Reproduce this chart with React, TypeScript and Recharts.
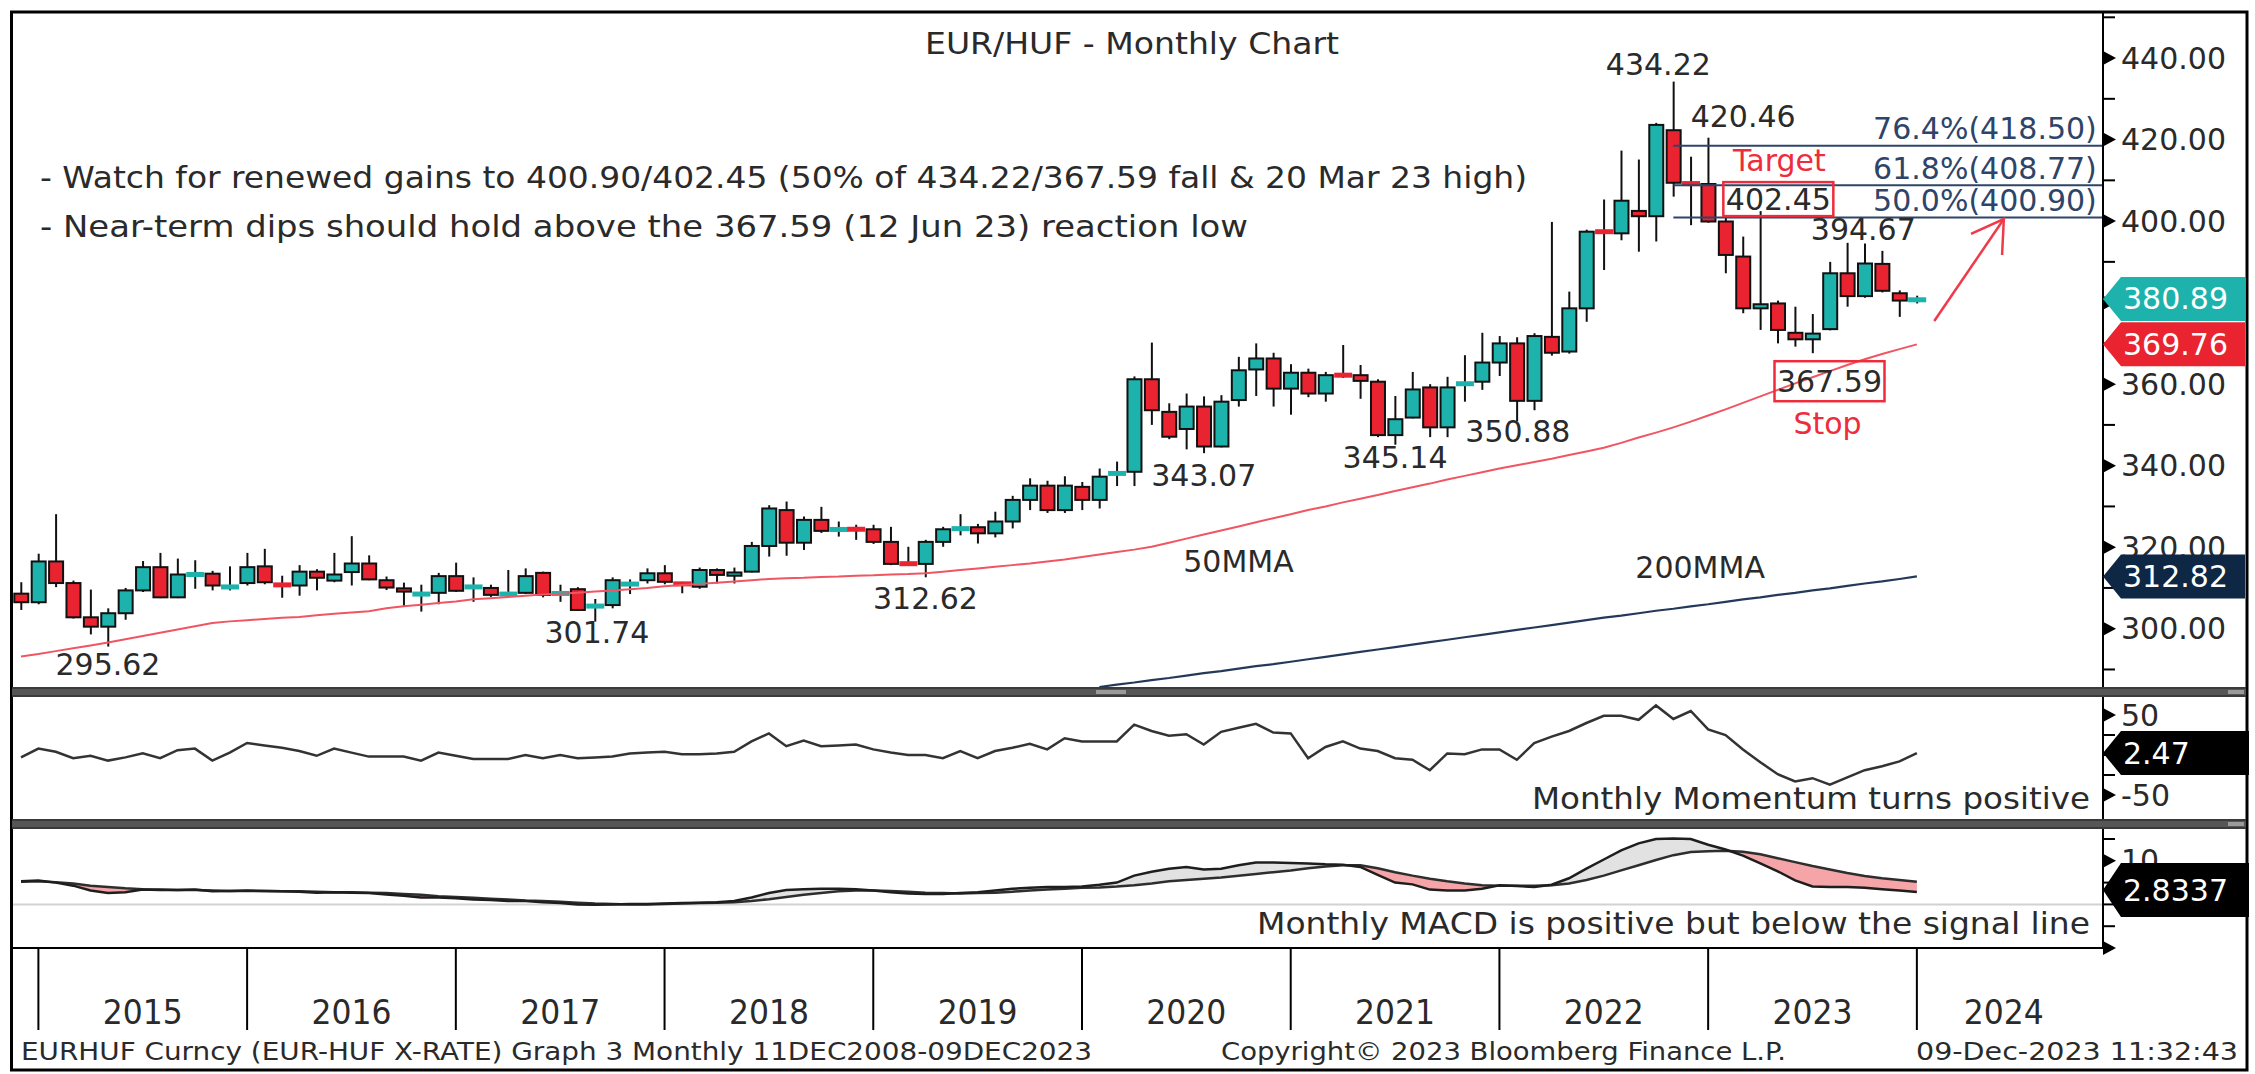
import React from 'react';
import { ComposedChart, Bar, Line, Area, XAxis, YAxis, ReferenceLine, ReferenceDot } from 'recharts';

// monthly slots Nov 2014 .. Oct 2024, candles stop at Dec 2023
const MON = ['Jan', 'Feb', 'Mar', 'Apr', 'May', 'Jun', 'Jul', 'Aug', 'Sep', 'Oct', 'Nov', 'Dec'];
const months = Array.from({ length: 120 }, (_, i) => `${MON[(10 + i) % 12]} ${14 + Math.floor((10 + i) / 12)}`);

// EUR/HUF monthly OHLC, Nov 2014 .. Dec 2023
const openP = [
  308.6, 306.5,
  316.5, 311.2, 302.8, 300.5, 303.8, 309.4, 315.1, 307.7, 313.2, 313.5, 310.1, 311.2,
  315.3, 310.9, 310.6, 314.0, 311.8, 313.9, 316.0, 311.9, 309.9, 308.4, 308.8, 312.9,
  310.1, 310.0, 308.4, 308.8, 313.7, 308.5, 309.7, 305.4, 305.8, 310.8, 311.9, 313.6,
  311.2, 310.3, 314.4, 313.0, 314.0, 320.3, 329.1, 321.1, 326.7, 324.2, 324.6, 324.4,
  321.3, 316.1, 315.9, 321.3, 324.4, 324.9, 323.4, 326.3, 331.6, 335.1, 329.1, 334.8,
  331.6, 337.9, 338.5, 361.2, 353.2, 349.0, 354.5, 344.7, 356.1, 363.6, 366.3, 358.9,
  362.8, 357.7, 362.4, 362.2, 360.6, 347.5, 351.8, 359.2, 349.4, 359.9, 360.6, 365.3,
  370.0, 355.9, 371.6, 368.0, 378.6, 397.6, 397.0, 402.5, 401.2, 422.3, 409.4, 409.1,
  399.9, 391.3, 378.6, 379.8, 372.6, 371.0, 373.5, 387.2, 381.6, 389.5, 382.3, 380.5,
];
const highP = [
  311.4, 318.4,
  328.1, 311.8, 309.6, 305.0, 310.0, 316.6, 318.6, 317.2, 316.8, 314.2, 315.3, 318.6,
  319.6, 313.0, 315.6, 314.6, 318.6, 322.7, 318.0, 312.8, 311.3, 310.8, 313.7, 316.2,
  312.6, 310.8, 314.4, 314.8, 314.0, 310.8, 310.2, 307.3, 312.6, 312.1, 314.8, 315.6,
  311.5, 315.0, 314.8, 315.0, 321.3, 330.3, 331.2, 327.5, 329.9, 326.3, 325.5, 325.5,
  325.0, 320.1, 321.8, 325.0, 328.1, 325.7, 328.7, 332.6, 336.9, 336.3, 337.4, 336.0,
  339.3, 341.0, 361.9, 370.2, 355.3, 357.7, 357.0, 357.3, 366.7, 370.0, 367.7, 364.9,
  363.8, 363.0, 369.6, 364.7, 361.2, 357.1, 363.0, 360.0, 361.8, 367.1, 372.6, 371.8,
  371.5, 372.5, 399.8, 382.7, 397.9, 405.3, 417.3, 415.1, 424.1, 434.22, 415.8, 420.46,
  401.0, 396.2, 402.45, 380.5, 379.0, 377.2, 390.0, 394.67, 394.5, 392.7, 383.0, 381.7,
];
const lowP = [
  304.6, 306.0,
  310.2, 302.5, 298.6, 295.62, 302.2, 309.0, 307.5, 307.5, 309.8, 309.4, 309.4, 310.6,
  310.9, 307.6, 308.1, 309.4, 311.4, 310.6, 311.9, 309.5, 305.6, 304.2, 306.0, 309.0,
  306.6, 307.8, 308.2, 308.5, 307.7, 306.6, 304.4, 301.74, 305.0, 308.5, 311.1, 310.9,
  308.7, 309.8, 311.1, 311.1, 313.8, 317.7, 317.9, 319.3, 323.5, 322.6, 321.8, 320.8,
  315.6, 315.5, 312.62, 320.1, 322.9, 320.9, 322.4, 324.6, 329.1, 328.4, 328.4, 329.1,
  329.5, 335.0, 335.0, 350.0, 346.5, 344.0, 343.07, 344.5, 354.5, 357.1, 354.5, 352.5,
  356.8, 355.7, 361.5, 356.4, 347.0, 345.14, 351.6, 347.0, 347.0, 355.7, 358.6, 362.0,
  350.88, 353.6, 367.0, 367.5, 375.3, 388.0, 395.3, 392.5, 395.0, 406.0, 399.0, 399.6,
  387.2, 377.4, 373.3, 370.0, 369.2, 367.59, 373.2, 379.0, 381.2, 382.5, 376.5, 379.8,
];
const closeP = [
  306.5, 316.5,
  311.2, 302.8, 300.5, 303.8, 309.4, 315.1, 307.7, 313.3, 313.4, 310.6, 310.4, 315.1,
  311.4, 310.6, 314.0, 312.5, 313.3, 316.0, 312.1, 310.1, 309.1, 308.6, 312.9, 309.3,
  310.4, 308.3, 308.6, 312.9, 308.3, 308.8, 304.6, 305.7, 311.9, 311.1, 313.6, 311.5,
  310.8, 314.4, 313.2, 313.8, 320.3, 329.5, 321.1, 326.7, 324.0, 324.5, 324.2, 321.3,
  315.9, 315.8, 321.3, 324.4, 324.7, 323.4, 326.3, 331.6, 335.1, 329.1, 335.1, 331.6,
  337.3, 338.3, 361.2, 353.6, 347.1, 354.5, 344.7, 355.7, 363.4, 366.3, 358.9, 362.8,
  357.7, 362.2, 362.0, 360.8, 347.5, 351.4, 358.7, 349.4, 359.2, 360.3, 365.3, 370.0,
  355.9, 371.8, 367.7, 378.6, 397.4, 397.2, 405.0, 401.2, 423.6, 409.4, 409.0, 399.9,
  391.7, 378.6, 379.6, 373.3, 371.0, 372.4, 387.2, 381.6, 389.6, 382.9, 380.5, 380.89,
];
const ma50 = [
  293.2, 293.8,
  294.5, 295.2, 295.9, 296.6, 297.4, 298.2, 299.0, 299.8, 300.6, 301.4, 301.8, 302.1,
  302.4, 302.7, 302.9, 303.3, 303.7, 304.0, 304.3, 305.0, 305.5, 305.9, 306.3, 306.7,
  307.2, 307.5, 307.8, 308.1, 308.4, 308.6, 308.8, 309.1, 309.4, 309.7, 310.0, 310.4,
  310.7, 311.0, 311.3, 311.6, 311.9, 312.2, 312.4, 312.5, 312.7, 312.8, 313.0, 313.1,
  313.3, 313.4, 313.6, 314.0, 314.4, 314.8, 315.2, 315.6, 316.0, 316.5, 317.0, 317.6,
  318.2, 318.8, 319.4, 320.1, 321.1, 322.1, 323.1, 324.1, 325.1, 326.1, 327.1, 328.1,
  329.1, 330.0, 331.0, 331.9, 332.8, 333.8, 334.7, 335.6, 336.6, 337.5, 338.4, 339.3,
  340.1, 340.9, 341.7, 342.6, 343.5, 344.4, 345.6, 346.9, 348.1, 349.4, 350.8, 352.3,
  353.8, 355.4, 357.0, 358.6, 360.2, 361.7, 363.2, 364.7, 366.1, 367.4, 368.6, 369.76,
];
// 200MMA only enters the visible range from Jan 2020
const ma200 = [
  ...Array(62).fill(null),
  285.7, 286.3, 286.8, 287.4, 287.9, 288.5, 289.1, 289.6, 290.2, 290.8, 291.3, 291.9,
  292.5, 293.1, 293.7, 294.3, 294.9, 295.5, 296.1, 296.7, 297.3, 297.9, 298.5, 299.1,
  299.7, 300.3, 300.9, 301.5, 302.1, 302.7, 303.2, 303.8, 304.4, 304.9, 305.5, 306.0,
  306.6, 307.2, 307.7, 308.3, 308.8, 309.4, 309.9, 310.5, 311.1, 311.6, 312.2, 312.82,
];
const momentum = [
  -3, 8,
  4, -4, -1, -7, -3, 2, -4, 6, 8, -7, 3, 15,
  12, 9, 5, -1, 8, 3, -2, -2, -2, -7, 3, -1,
  -5, -5, -5, 0, -4, 0, -4, -3, -2, 2, 3, 4,
  1, 1, 2, 4, 17, 27, 11, 18, 11, 12, 13, 7,
  3, 0, 0, -4, 5, -4, 5, 9, 14, 7, 21, 17,
  17, 17, 38, 30, 24, 26, 13, 29, 34, 39, 28, 27,
  -4, 10, 17, 8, 5, -4, -6, -19, 2, 1, 7, 7,
  -6, 15, 23, 30, 40, 49, 49, 44, 62, 45, 55, 32,
  25, 7, -9, -24, -33, -29, -37, -28, -19, -14, -8, 2.47,
];
const macd = [
  5.3, 5.5,
  5.0, 4.3, 3.2, 2.6, 2.8, 3.4, 3.3, 3.3, 3.4, 3.0, 3.1, 3.2,
  3.1, 3.0, 2.9, 2.7, 2.8, 2.7, 2.6, 2.3, 2.0, 1.6, 1.6, 1.4,
  1.1, 1.0, 0.8, 0.8, 0.5, 0.3, 0.0, -0.1, 0.0, 0.1, 0.1, 0.2,
  0.3, 0.4, 0.5, 0.8, 1.6, 2.6, 3.3, 3.5, 3.6, 3.6, 3.5, 3.2,
  2.8, 2.5, 2.4, 2.4, 2.6, 2.8, 3.2, 3.6, 3.8, 4.0, 4.0, 4.1,
  4.5, 5.0, 6.6, 7.5, 8.2, 8.6, 8.0, 8.2, 9.0, 9.6, 9.6, 9.5,
  9.4, 9.2, 9.1, 8.6, 6.8, 5.0, 4.6, 3.4, 3.2, 3.2, 3.6, 4.4,
  4.2, 4.0, 4.5, 6.0, 8.2, 10.3, 12.4, 14.0, 15.0, 15.1, 15.0, 13.7,
  12.6, 11.2, 9.4, 7.6, 5.5, 4.1, 4.0, 4.0, 3.8, 3.5, 3.2, 2.8337,
];
const signal = [
  5.2, 5.3,
  5.1, 4.8, 4.3, 4.0, 3.7, 3.5, 3.4, 3.3, 3.3, 3.2, 3.1, 3.1,
  3.1, 3.0, 3.0, 2.9, 2.8, 2.8, 2.7, 2.6, 2.4, 2.2, 1.9, 1.7,
  1.5, 1.3, 1.1, 0.9, 0.8, 0.6, 0.4, 0.2, 0.1, 0.0, 0.0, 0.1,
  0.2, 0.3, 0.4, 0.5, 0.8, 1.2, 1.7, 2.2, 2.6, 3.0, 3.2, 3.2,
  3.1, 2.9, 2.7, 2.6, 2.5, 2.6, 2.7, 2.9, 3.2, 3.4, 3.6, 3.8,
  3.9, 4.1, 4.4, 4.8, 5.3, 5.6, 5.9, 6.2, 6.6, 7.0, 7.4, 7.8,
  8.3, 8.7, 9.0, 9.0, 8.3, 7.4, 6.6, 5.9, 5.3, 4.8, 4.4, 4.3,
  4.3, 4.3, 4.4, 4.8, 5.6, 6.6, 7.8, 9.0, 10.2, 11.3, 12.0, 12.2,
  12.3, 12.1, 11.5, 10.6, 9.7, 8.8, 8.0, 7.2, 6.5, 6.0, 5.6, 5.2,
];

const fibLevels = [418.5, 408.77, 400.9];
const fibNames = ['76.4%', '61.8%', '50.0%'];
const yearLabels = ['2015', '2016', '2017', '2018', '2019', '2020', '2021', '2022', '2023', '2024'];

const rows = months.map((m, i) => ({
  m,
  o: openP[i] ?? null,
  h: highP[i] ?? null,
  l: lowP[i] ?? null,
  c: closeP[i] ?? null,
  ma50: ma50[i] ?? null,
  ma200: ma200[i] ?? null,
  mom: momentum[i] ?? null,
  macd: macd[i] ?? null,
  sig: signal[i] ?? null,
}));

// geometry
const W = 2255;
const LEFT = 12.3;
const PAD_R = 3.5;
const PLOT_R = 2103;
const BAND = (PLOT_R - PAD_R - LEFT) / months.length;
const HALF = BAND / 2;
const Y_W = W - 6 - PLOT_R;
const MARGIN = { top: 0, right: 6, bottom: 0, left: LEFT };

const MAIN = { top: 12, h: 675, dom: [285.7, 451.3] };
const MOM = { top: 697, h: 122, dom: [-80, 72.5] };
const MACD = { top: 829, h: 119, dom: [-10, 17.3] };
const toY = (p: { top: number; h: number; dom: number[] }, v: number) =>
  p.top + ((p.dom[1] - v) / (p.dom[1] - p.dom[0])) * p.h;

const TEAL = '#1db3ac';
const RED = '#ea2330';
const INK = '#2a2a2a';
const FONT = 'DejaVu Sans';

const last = (a: number[]) => a[a.length - 1];

const Candle = (p: any) => {
  const r = p.payload;
  if (!r || r.h == null) return null;
  const top = Math.min(p.y, p.y + p.height);
  const k = Math.abs(p.height) / (r.h - r.l);
  const Y = (v: number) => top + (r.h - v) * k;
  const cx = p.x + p.width / 2;
  const fill = r.c >= r.o ? TEAL : RED;
  const doji = Math.abs(r.c - r.o) < 0.7;
  return (
    <g>
      <line x1={cx} x2={cx} y1={Y(r.h)} y2={Y(r.l)} stroke="#111" strokeWidth={2} />
      {doji ? (
        <rect x={cx - 9} y={Y((r.o + r.c) / 2) - 2.5} width={18} height={5} fill={fill} />
      ) : (
        <rect x={cx - 7} y={Y(Math.max(r.o, r.c))} width={14} height={Math.abs(Y(r.o) - Y(r.c))}
          fill={fill} stroke="#111" strokeWidth={2} />
      )}
    </g>
  );
};

const makeTick = (major: (v: number) => boolean, fmt: (v: number) => string) => (p: any) => {
  const v = p.payload.value;
  if (!major(v)) return <line x1={p.x} x2={p.x + 12} y1={p.y} y2={p.y} stroke="#000" strokeWidth={2} />;
  const txt = fmt(v);
  return (
    <g>
      <path d={`M${p.x},${p.y - 7} L${p.x + 13},${p.y} L${p.x},${p.y + 7} Z`} fill="#000" />
      {txt && (
        <text x={p.x + 18} y={p.y} dominantBaseline="central" fontFamily={FONT} fontSize={30} fill={INK}>
          {txt}
        </text>
      )}
    </g>
  );
};

// the 380 label sits fully behind the last-price tag, as in the original
const priceTick = makeTick((v) => v % 20 === 0, (v) => (Math.abs(v - last(closeP)) < 3 ? '' : v.toFixed(2)));
const momTick = makeTick((v) => Math.abs(v) === 50, (v) => String(v));
const macdTick = makeTick((v) => Math.abs(v) === 10, (v) => (v > 0 ? String(v) : ''));

// value tag on the right axis, drawn in the top overlay so it covers the tick labels
const Tag = ({ y, fill, text, reach = 142, h = 22 }: { y: number; fill: string; text: string; reach?: number; h?: number }) => {
  const X = PLOT_R;
  return (
    <g>
      <path d={`M${X},${y} L${X + 18},${y - h} L${X + reach},${y - h} L${X + reach},${y + h} L${X + 18},${y + h} Z`} fill={fill} />
      <text x={X + 20} y={y} dominantBaseline="central" fontFamily={FONT} fontSize={30} fill="#fff">{text}</text>
    </g>
  );
};

const label = (text: string, dx: number, dy: number, color = INK, box?: [number, number]) => (p: any) => (
  <g>
    {box && (
      <rect x={p.cx + dx - box[0] / 2} y={p.cy + dy - box[1] / 2} width={box[0]} height={box[1]}
        fill="none" stroke="#ee2c3c" strokeWidth={2.5} />
    )}
    <text x={p.cx + dx} y={p.cy + dy} textAnchor="middle" dominantBaseline="central" fontFamily={FONT} fontSize={30} fill={color}>
      {text}
    </text>
  </g>
);

const notes = [
  { k: 95, v: 434.22, dx: -15, dy: -17, t: '434.22' },
  { k: 97, v: 420.46, dx: 35, dy: -21, t: '420.46' },
  { k: 105, v: 394.67, dx: 16, dy: -13, t: '394.67' },
  { k: 86, v: 350.88, dx: 1, dy: 10, t: '350.88' },
  { k: 79, v: 345.14, dx: 0, dy: 13, t: '345.14' },
  { k: 68, v: 343.07, dx: 0, dy: 22, t: '343.07' },
  { k: 52, v: 312.62, dx: 0, dy: 21, t: '312.62' },
  { k: 33, v: 301.74, dx: 2, dy: 11, t: '301.74' },
  { k: 5, v: 295.62, dx: 0, dy: 18, t: '295.62' },
  { k: 70, v: 316.4, dx: 0, dy: 0, t: '50MMA' },
  { k: 97, v: 315.1, dx: -8, dy: 0, t: '200MMA' },
];

const arrowShape = (p: any) => {
  const { x1, y1, x2, y2 } = p;
  const a = Math.atan2(y1 - y2, x1 - x2);
  const L = 36;
  const w1 = [x2 + L * Math.cos(a + 0.55), y2 + L * Math.sin(a + 0.55)];
  const w2 = [x2 + L * Math.cos(a - 0.55), y2 + L * Math.sin(a - 0.55)];
  return (
    <g stroke="#f03a4a" strokeWidth={2.5} fill="none">
      <line x1={x1} y1={y1} x2={x2} y2={y2} />
      <polyline points={`${w1[0]},${w1[1]} ${x2},${y2} ${w2[0]},${w2[1]}`} />
    </g>
  );
};

const yearAt: Record<string, string> = {};
yearLabels.forEach((y, i) => { yearAt[months[i < 9 ? 7 + 12 * i : 114]] = y; });
const yearLines = months.filter((m) => m.startsWith('Dec'));
const dateTicks = [...yearLines, ...Object.keys(yearAt)];

const DateTick = (p: any) => {
  const v = p.payload.value;
  // put the tick on the centre of its month band
  const x = p.x + (p.payload.offset ? 0 : HALF);
  if (yearAt[v]) {
    return (
      <text x={x} y={p.y + 64} textAnchor="middle" dominantBaseline="central" fontFamily={FONT} fontSize={34}
        textLength={80} lengthAdjust="spacingAndGlyphs" fill={INK}>
        {yearAt[v]}
      </text>
    );
  }
  return <line x1={x} x2={x} y1={p.y} y2={p.y + 82} stroke="#000" strokeWidth={2} />;
};

const Separator = ({ y, grip }: { y: number; grip?: boolean }) => (
  <g>
    <rect x={12} y={y} width={2234} height={10} fill="#565656" />
    <line x1={12} x2={2246} y1={y + 1} y2={y + 1} stroke="#3a3a3a" strokeWidth={2} />
    <line x1={12} x2={2246} y1={y + 9} y2={y + 9} stroke="#3a3a3a" strokeWidth={2} />
    <rect x={2228} y={y + 3} width={16} height={4} fill="#9a9a9a" />
    {grip && <rect x={1096} y={y + 3} width={30} height={4} fill="#9a9a9a" />}
  </g>
);

export default function App() {
  return (
    <div style={{ position: 'absolute', left: 0, top: 0, width: W, height: 1074, background: '#fff', overflow: 'hidden' }}>
      <div style={{ position: 'absolute', left: 0, top: MAIN.top }}>
        <ComposedChart width={W} height={MAIN.h} data={rows} margin={MARGIN}>
          <XAxis dataKey="m" hide scale="band" padding={{ left: 0, right: PAD_R }} />
          <YAxis orientation="right" width={Y_W} domain={MAIN.dom} allowDataOverflow
            ticks={[290, 300, 310, 320, 330, 340, 350, 360, 370, 380, 390, 400, 410, 420, 430, 440, 450]}
            interval={0} tickLine={false} tickSize={0} tickMargin={0}
            axisLine={{ stroke: '#000', strokeWidth: 2 }} tick={priceTick} />
          <Line dataKey="ma200" stroke="#24395a" strokeWidth={2.2} dot={false} isAnimationActive={false} />
          <Line dataKey="ma50" stroke="#f05562" strokeWidth={2} dot={false} isAnimationActive={false} />
          {fibLevels.map((lv) => (
            <ReferenceLine key={lv} segment={[{ x: months[95], y: lv }, { x: months[119], y: lv }]} ifOverflow="visible"
              shape={(p: any) => <line x1={p.x1} y1={p.y1} x2={p.x2 + HALF + PAD_R} y2={p.y2} stroke="#2e4468" strokeWidth={2} />} />
          ))}
          <Bar dataKey={(r: any) => (r.h == null ? null : [r.l, r.h])} barSize={14} shape={(p: any) => <Candle {...p} />}
            isAnimationActive={false} />
          {fibLevels.map((lv, i) => (
            <ReferenceDot key={`f${lv}`} x={months[119]} y={lv} ifOverflow="visible"
              shape={(p: any) => (
                <text x={p.cx + 6} y={p.cy - 17} textAnchor="end" dominantBaseline="central" fontFamily={FONT} fontSize={30} fill="#2e4468">
                  {`${fibNames[i]}(${lv.toFixed(2)})`}
                </text>
              )} />
          ))}
          {notes.map((n) => (
            <ReferenceDot key={n.t} x={months[n.k]} y={n.v} ifOverflow="visible" shape={label(n.t, n.dx, n.dy)} />
          ))}
          <ReferenceDot x={months[100]} y={402.45} ifOverflow="visible" shape={label('402.45', 18, -12, INK, [110, 34])} />
          <ReferenceDot x={months[100]} y={402.45} ifOverflow="visible" shape={label('Target', 19, -51, '#ee2c3c')} />
          <ReferenceDot x={months[103]} y={367.59} ifOverflow="visible" shape={label('367.59', 17, 28, INK, [110, 40])} />
          <ReferenceDot x={months[103]} y={367.59} ifOverflow="visible" shape={label('Stop', 15, 70, '#ee2c3c')} />
          <ReferenceLine segment={[{ x: months[110], y: 375.5 }, { x: months[114], y: 400.5 }]} ifOverflow="visible" shape={arrowShape} />
        </ComposedChart>
      </div>

      <div style={{ position: 'absolute', left: 0, top: MOM.top }}>
        <ComposedChart width={W} height={MOM.h} data={rows} margin={MARGIN}>
          <XAxis dataKey="m" hide scale="band" padding={{ left: 0, right: PAD_R }} />
          <YAxis orientation="right" width={Y_W} domain={MOM.dom} allowDataOverflow ticks={[50, 25, 0, -25, -50]}
            interval={0} tickLine={false} tickSize={0} tickMargin={0}
            axisLine={{ stroke: '#000', strokeWidth: 2 }} tick={momTick} />
          <Line dataKey="mom" stroke="#333" strokeWidth={2.5} dot={false} isAnimationActive={false} />
        </ComposedChart>
      </div>

      <div style={{ position: 'absolute', left: 0, top: MACD.top }}>
        <ComposedChart width={W} height={MACD.h + 85} data={rows} margin={MARGIN}>
          <XAxis dataKey="m" scale="band" padding={{ left: 0, right: PAD_R }} height={85} ticks={dateTicks} interval={0}
            tickLine={false} tickSize={0} tickMargin={0} axisLine={{ stroke: '#000', strokeWidth: 2 }} tick={(p: any) => <DateTick {...p} />} />
          <YAxis orientation="right" width={Y_W} domain={MACD.dom} allowDataOverflow ticks={[15, 10, 5, 0, -5, -10]}
            interval={0} tickLine={false} tickSize={0} tickMargin={0}
            axisLine={{ stroke: '#000', strokeWidth: 2 }} tick={macdTick} />
          <ReferenceLine y={0} stroke="#d2d2d2" strokeWidth={2} />
          <Area dataKey={(r: any) => (r.macd == null ? null : r.macd < r.sig ? [r.macd, r.sig] : [r.sig, r.sig])}
            fill="#f5a4a7" fillOpacity={1} stroke="none" isAnimationActive={false} />
          <Area dataKey={(r: any) => (r.macd == null ? null : r.macd > r.sig ? [r.sig, r.macd] : [r.sig, r.sig])}
            fill="#e2e2e2" fillOpacity={1} stroke="none" isAnimationActive={false} />
          <Line dataKey="sig" stroke="#2e2e2e" strokeWidth={2.5} dot={false} isAnimationActive={false} />
          <Line dataKey="macd" stroke="#1e1e1e" strokeWidth={2.5} dot={false} isAnimationActive={false} />
        </ComposedChart>
      </div>

      <svg width={W} height={1074} style={{ position: 'absolute', left: 0, top: 0, pointerEvents: 'none' }}>
        <rect x={11.5} y={12} width={2235.5} height={1058} fill="none" stroke="#000" strokeWidth={3} />
        <Separator y={687} grip />
        <Separator y={819} />
        <Tag y={toY(MAIN, last(closeP))} fill={TEAL} text={last(closeP).toFixed(2)} />
        <Tag y={toY(MAIN, last(ma50))} fill={RED} text={last(ma50).toFixed(2)} />
        <Tag y={toY(MAIN, last(ma200))} fill="#0e2744" text={last(ma200).toFixed(2)} />
        <Tag y={toY(MOM, last(momentum))} fill="#000" text={String(last(momentum))} reach={146} />
        <Tag y={toY(MACD, last(macd)) - 2} fill="#000" text={String(last(macd))} reach={146} h={27} />
        <g fontFamily={FONT} fill={INK}>
          <text x={1132} y={43} textAnchor="middle" dominantBaseline="central" fontSize={30} textLength={414} lengthAdjust="spacingAndGlyphs">
            EUR/HUF - Monthly Chart
          </text>
          <text x={40} y={177} dominantBaseline="central" fontSize={30} textLength={1487} lengthAdjust="spacingAndGlyphs">
            - Watch for renewed gains to 400.90/402.45 (50% of 434.22/367.59 fall &amp; 20 Mar 23 high)
          </text>
          <text x={40} y={226} dominantBaseline="central" fontSize={30} textLength={1208} lengthAdjust="spacingAndGlyphs">
            - Near-term dips should hold above the 367.59 (12 Jun 23) reaction low
          </text>
          <text x={2090} y={798} textAnchor="end" dominantBaseline="central" fontSize={30} textLength={558} lengthAdjust="spacingAndGlyphs">
            Monthly Momentum turns positive
          </text>
          <text x={2090} y={923} textAnchor="end" dominantBaseline="central" fontSize={30} textLength={833} lengthAdjust="spacingAndGlyphs">
            Monthly MACD is positive but below the signal line
          </text>
          <text x={21} y={1052} dominantBaseline="central" fontSize={24} textLength={1071} lengthAdjust="spacingAndGlyphs">
            EURHUF Curncy (EUR-HUF X-RATE) Graph 3  Monthly 11DEC2008-09DEC2023
          </text>
          <text x={1221} y={1052} dominantBaseline="central" fontSize={24} textLength={565} lengthAdjust="spacingAndGlyphs">
            Copyright© 2023 Bloomberg Finance L.P.
          </text>
          <text x={1916} y={1052} dominantBaseline="central" fontSize={24} textLength={322} lengthAdjust="spacingAndGlyphs">
            09-Dec-2023 11:32:43
          </text>
        </g>
      </svg>
    </div>
  );
}
